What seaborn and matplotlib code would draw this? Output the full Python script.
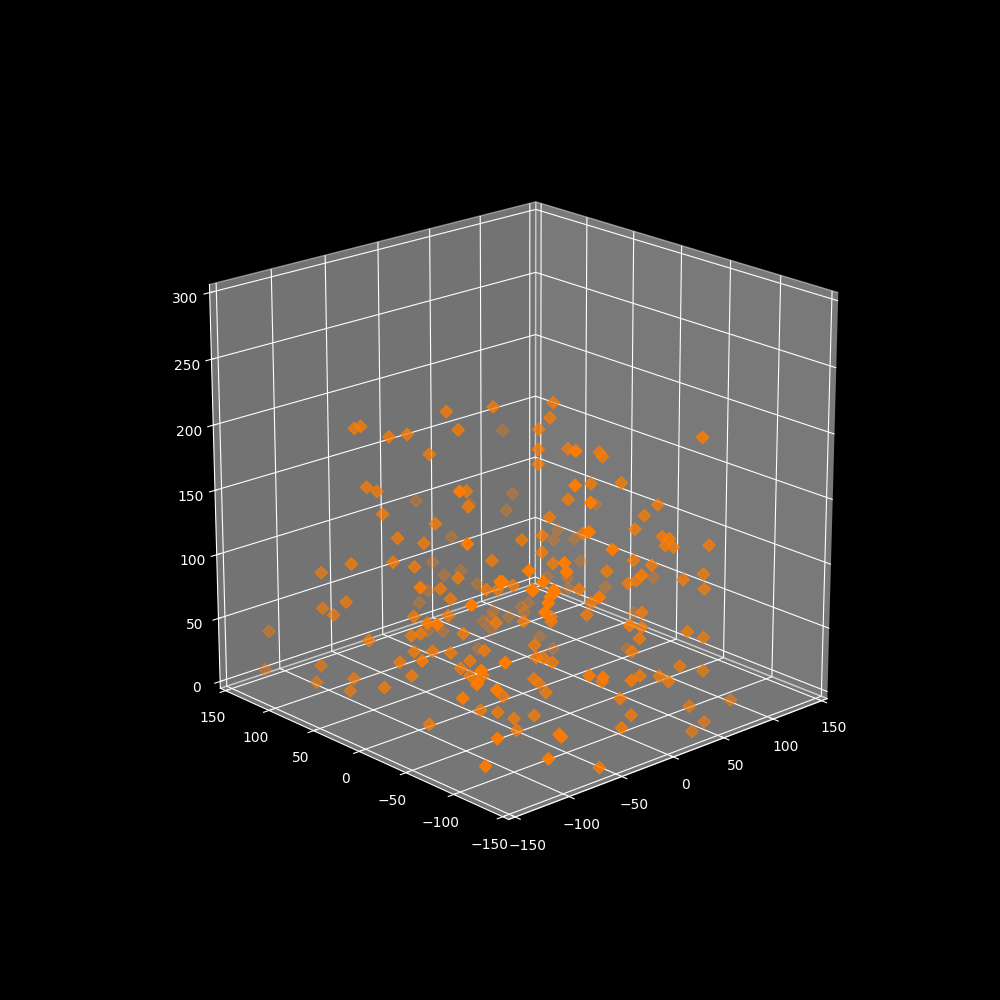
import matplotlib
matplotlib.use("Agg")
import matplotlib.pyplot as plt
import seaborn as sns

# values
x_values = [-75,-50,-125,-121,-108,-99,-72,36,-91,-128,-123,-22,-133,-77,6,-79,-124,-99,-9,-120,-137,-108,-75,-126,-148,-148,-116,-24,-10,-20,-96,-4,-127,-83,-149,-107,-31,-77,-103,-38,-145,-149,-148,-149,-124,-107,0,-2,-7,-83,-4,-148,-148,-38,-30,-102,-128,-124,-148,-149,-130,-120,-111,-14,-94,-103,-148,-139,-148,-149,-109,-149,-105,-98,-148,-135,-149,-149,-103,-149,-149,-145,-148,-105,-97,-134,-148,-149,-19,-23,-30,32,-18,-69,-3,-2,-34,-36,3,-75,-12,31,-27,24,-70,73,19,10,-39,3,-75,-24,49,-46,45,56,-57,16,0,16,20,39,-54,-49,-2,55,6,-44,-92,-18,-92,46,-111,35,-25,92,-5,-9,35,19,35,-106,-126,-69,64,-35,44,-101,-59,-112,-101,-104,-106,-66,-31,-35,20,16,17,8,-69,-109,-54,-55,75,-7,-37,-9,-13,19,35,21,-67,26,-68,-65,-61,66,-18,-137,13,36,-75,-62,-38,-18,-35,-7,1,-73,-71,-69,-32,63,22,-29,-79,-90,38,26,-43,-90,-103,-100,-112,-64,-91]
y_values = [-3,-24,37,35,20,11,-12,61,-3,21,16,91,-82,-26,64,-30,9,-18,67,-2,-94,-16,-50,-4,15,48,-15,71,56,63,-38,45,-116,-53,-59,-32,68,-58,-38,70,-107,20,47,34,-23,-40,32,32,35,-63,30,-65,-75,61,53,-50,-25,-30,108,-4,-30,-38,-47,33,-63,-58,-59,-25,50,112,-55,-121,-60,-66,14,-33,-117,54,-65,17,-20,-132,-101,-71,-80,-50,-136,-125,-52,-53,-49,-148,-66,-128,-82,-84,-53,-55,-98,-134,-83,45,-76,44,-144,1,-118,-114,-70,-112,-148,-88,16,-70,16,6,-61,-126,-149,-129,-133,-149,-149,-73,-116,-2,-126,-79,-142,-106,-144,2,-127,12,-148,-40,-122,-118,-148,-144,-149,-136,-117,-65,-19,-96,-1,-141,-74,-132,-142,-141,-141,-149,-104,-104,16,19,17,24,-76,-141,-88,-89,-37,-130,-149,-132,-134,-149,-149,5,-85,-4,-88,-92,-97,-40,-132,-132,-148,-148,-149,-149,-123,-140,-149,-148,-149,-91,-94,-99,-135,-149,-149,-143,-98,-89,-148,-148,-148,-92,-149,-148,-148,-148,-79]
z_values = [232,235,221,222,215,217,220,175,204,182,179,126,208,179,124,169,164,158,101,148,174,145,133,132,131,115,129,84,78,75,122,69,150,114,135,115,64,114,108,56,135,101,88,87,96,97,50,45,43,92,38,110,112,36,36,85,83,85,52,79,73,73,72,24,74,67,80,66,43,21,62,92,57,57,44,57,82,29,51,34,48,80,65,34,33,25,46,22,238,228,220,225,207,234,205,202,207,197,185,212,184,131,174,120,201,124,170,163,162,154,182,151,106,150,99,100,147,149,158,143,142,143,164,139,133,85,130,131,162,126,156,73,157,74,137,73,120,118,122,121,111,150,150,117,67,114,66,144,114,144,143,140,136,132,105,97,56,53,49,46,93,130,96,93,49,99,103,89,82,83,74,32,77,24,69,69,66,24,73,98,58,48,76,71,53,57,61,56,50,55,52,46,42,18,25,31,31,29,8,4,27,21,40,37,24,3,43]

plt.style.use("dark_background")
orange = sns.color_palette("bright")[1]

fig = plt.figure(figsize=(10, 10), dpi=100)
ax = fig.add_subplot(111, projection="3d")
ax.view_init(elev=20, azim=-132.5)
ax.set_xlim(-156, 156)
ax.set_ylim(-156, 156)
ax.set_zlim(-5.5, 306)
ax.set_box_aspect((1, 1, 0.985), zoom=0.95)

ax.scatter(x_values, y_values, z_values, color=orange, marker="D", s=40)

fig.savefig("out.png", dpi=100)
